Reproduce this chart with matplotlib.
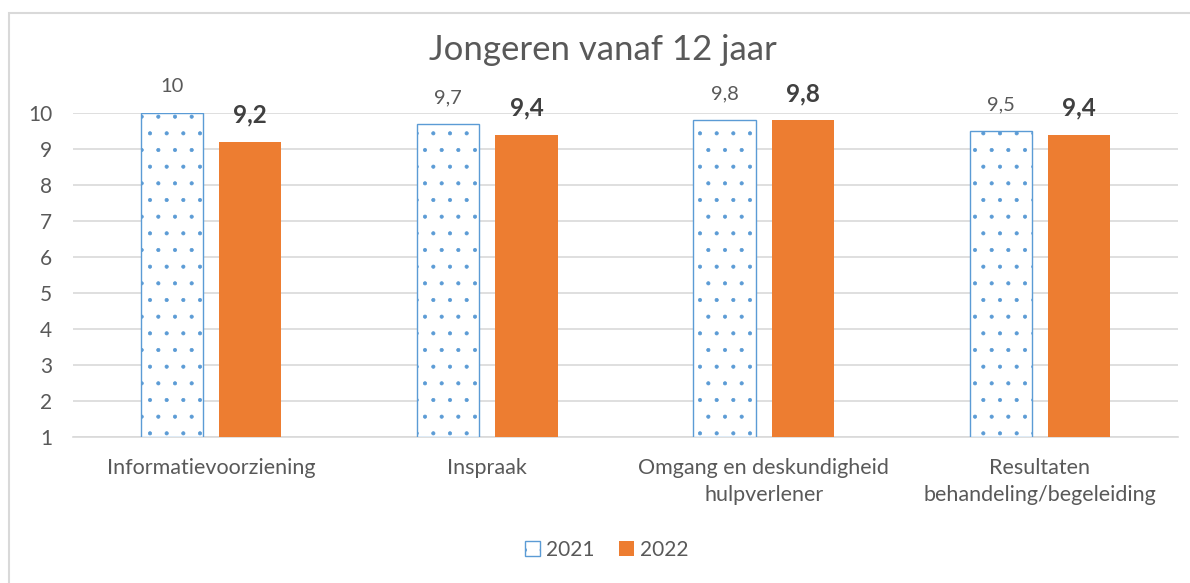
import numpy as np
import matplotlib.pyplot as plt
from matplotlib.patches import Rectangle

plt.rcParams['font.family'] = ['Lato', 'DejaVu Sans']
plt.rcParams['hatch.linewidth'] = 0.5

categories = ['Informatievoorziening', 'Inspraak', 'Omgang en deskundigheid\nhulpverlener',
              'Resultaten\nbehandeling/begeleiding']
jaar_2021 = [10, 9.7, 9.8, 9.5]
jaar_2022 = [9.2, 9.4, 9.8, 9.4]
series_labels = ['2021', '2022']

grijs = '#595959'
blauw = '#5B9BD5'
oranje = '#ED7D31'

fig = plt.figure(figsize=(11.9, 5.83), dpi=100)
ax = fig.add_axes([0.0613, 0.2504, 0.9287, 0.5558])

# rand om de grafiek
fig.patches.append(Rectangle((9 / 1190, -0.1), 1.2, 1 - 13 / 583 + 0.1, transform=fig.transFigure,
                             fill=False, edgecolor='#D9D9D9', linewidth=1.5))

x = np.arange(len(categories))
w = 0.225
gap = 0.058
b1 = ax.bar(x - (w + gap) / 2, np.array(jaar_2021) - 1, w, bottom=1, facecolor='white',
            edgecolor=blauw, hatch='.', linewidth=1.0, label=series_labels[0], zorder=3)
b2 = ax.bar(x + (w + gap) / 2, np.array(jaar_2022) - 1, w, bottom=1, color=oranje,
            label=series_labels[1], zorder=3)

for xi, v in zip(x - (w + gap) / 2, jaar_2021):
    ax.annotate(f'{v:g}'.replace('.', ','), (xi, v), xytext=(0, 19), textcoords='offset points',
                ha='center', va='center', fontsize=14.5, color=grijs)
for xi, v in zip(x + (w + gap) / 2, jaar_2022):
    ax.annotate(f'{v:g}'.replace('.', ','), (xi, v), xytext=(0, 19), textcoords='offset points',
                ha='center', va='center', fontsize=17.5, fontweight='bold', color='#404040')

ax.set_xlim(-0.5, len(categories) - 0.5)
ax.set_ylim(1, 10)
ax.set_yticks(range(1, 11))
ax.grid(axis='y', color='#D9D9D9', linewidth=1.2, zorder=0)
ax.set_xticks(x)
ax.set_xticklabels(categories, fontsize=15.5, color=grijs, linespacing=1.45)
ax.tick_params(axis='both', length=0, labelcolor=grijs)
ax.tick_params(axis='y', labelsize=15, pad=15)
ax.tick_params(axis='x', pad=15)
for s in ['top', 'right', 'left']:
    ax.spines[s].set_visible(False)
ax.spines['bottom'].set_color('#D9D9D9')
ax.spines['bottom'].set_linewidth(1.2)

fig.text(0.507, 1 - 50 / 583, 'Jongeren vanaf 12 jaar', ha='center', va='center',
         fontsize=25, color=grijs)

fig.legend(handles=[b1, b2], loc='center', bbox_to_anchor=(0.51, 1 - 550 / 583), ncol=2,
           frameon=False, fontsize=15, labelcolor=grijs, handlelength=0.7, handleheight=0.7,
           columnspacing=1.2, handletextpad=0.3)

plt.savefig('out.png')
